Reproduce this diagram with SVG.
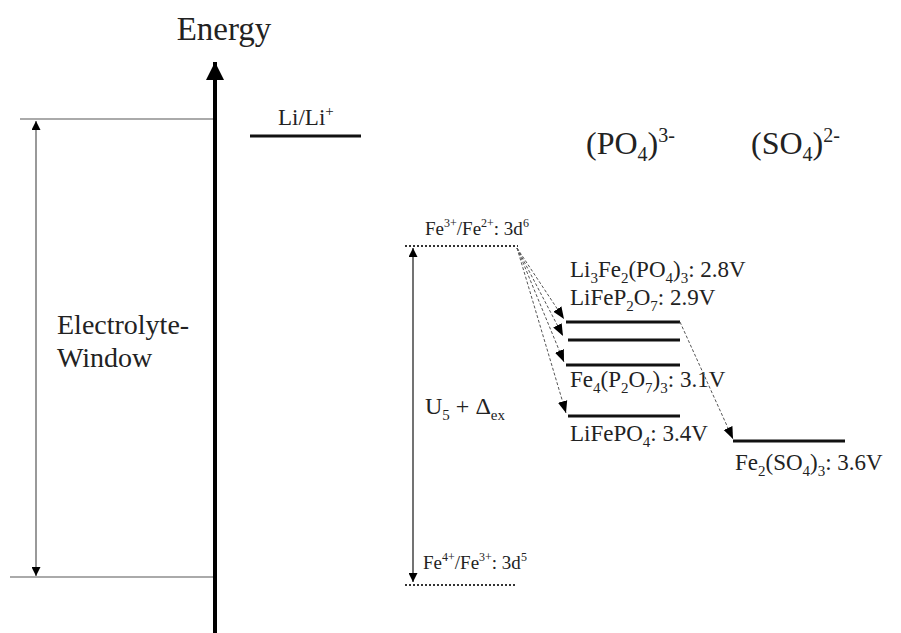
<svg xmlns="http://www.w3.org/2000/svg" width="901" height="633" viewBox="0 0 901 633">
<defs>
<marker id="ahBig" viewBox="0 0 10 10" refX="10" refY="5" markerWidth="18" markerHeight="18" markerUnits="userSpaceOnUse" orient="auto"><path d="M0,0 L10,5 L0,10 z" fill="#000"/></marker>
<marker id="ahS" viewBox="0 0 10 10" refX="10" refY="5" markerWidth="9" markerHeight="9" markerUnits="userSpaceOnUse" orient="auto-start-reverse"><path d="M0,0 L10,5 L0,10 z" fill="#000"/></marker>
<marker id="ahD" viewBox="0 0 10 10" refX="10" refY="5" markerWidth="12" markerHeight="12" markerUnits="userSpaceOnUse" orient="auto"><path d="M0,1 L10,5 L0,9 z" fill="#000"/></marker>
</defs>
<style>
text{font-family:"Liberation Serif","Times New Roman",serif;fill:#222}
.lbl{font-size:23px}
.s{font-size:15px}
.grey{stroke:#aaa;stroke-width:2;fill:none}
.lvl{stroke:#111;stroke-width:3}
.dot{stroke:#333;stroke-width:2;stroke-dasharray:2,2}
.dash{stroke:#555;stroke-width:1;stroke-dasharray:3,2;fill:none}
</style>
<g font-family="Liberation Serif, Times New Roman, serif">
<g id="axis">
<line x1="215" y1="633" x2="215" y2="62" stroke="#000" stroke-width="4" marker-end="url(#ahBig)"/>
<text x="224" y="40" font-size="33" text-anchor="middle">Energy</text>
</g>
<g id="electrolyte-window">
<line class="grey" x1="20" y1="119" x2="213" y2="119"/>
<line class="grey" x1="10" y1="577" x2="213" y2="577"/>
<line x1="36" y1="576" x2="36" y2="121" stroke="#999" stroke-width="2" marker-start="url(#ahS)" marker-end="url(#ahS)"/>
<text x="57" y="334" font-size="28">Electrolyte-</text>
<text x="57" y="367" font-size="28">Window</text>
</g>
<g id="lili">
<text x="278" y="125" font-size="23">Li/Li<tspan font-size="15" dy="-9">+</tspan></text>
<line class="lvl" x1="250" y1="136" x2="361" y2="136" stroke-width="2.5"/>
</g>
<g id="headers">
<text x="586" y="154" font-size="32">(PO<tspan font-size="20" dy="7">4</tspan><tspan dy="-7">)</tspan><tspan font-size="20" dy="-12">3-</tspan></text>
<text x="751" y="154" font-size="32">(SO<tspan font-size="20" dy="7">4</tspan><tspan dy="-7">)</tspan><tspan font-size="20" dy="-12">2-</tspan></text>
</g>
<g id="fe32">
<text x="425" y="235" font-size="19">Fe<tspan font-size="12" dy="-8">3+</tspan><tspan dy="8">/Fe</tspan><tspan font-size="12" dy="-8">2+</tspan><tspan dy="8">: 3d</tspan><tspan font-size="12" dy="-8">6</tspan></text>
<line class="dot" x1="405" y1="246" x2="518" y2="246"/>
</g>
<g id="fe43">
<text x="423" y="569" font-size="19">Fe<tspan font-size="12" dy="-8">4+</tspan><tspan dy="8">/Fe</tspan><tspan font-size="12" dy="-8">3+</tspan><tspan dy="8">: 3d</tspan><tspan font-size="12" dy="-8">5</tspan></text>
<line class="dot" x1="405" y1="585" x2="517" y2="585"/>
</g>
<g id="gap">
<line x1="413" y1="582" x2="413" y2="248" stroke="#444" stroke-width="1.5" marker-start="url(#ahS)" marker-end="url(#ahS)"/>
<text x="425" y="414" font-size="24">U<tspan class="s" dy="6">5</tspan><tspan dy="-6"> + Δ</tspan><tspan class="s" dy="6">ex</tspan></text>
</g>
<g id="li3fe2po4">
<text class="lbl" x="570" y="277">Li<tspan class="s" dy="6">3</tspan><tspan dy="-6">Fe</tspan><tspan class="s" dy="6">2</tspan><tspan dy="-6">(PO</tspan><tspan class="s" dy="6">4</tspan><tspan dy="-6">)</tspan><tspan class="s" dy="6">3</tspan><tspan dy="-6">: 2.8V</tspan></text>
<line class="lvl" x1="566" y1="322" x2="680" y2="322"/>
</g>
<g id="lifep2o7">
<text class="lbl" x="570" y="305">LiFeP<tspan class="s" dy="6">2</tspan><tspan dy="-6">O</tspan><tspan class="s" dy="6">7</tspan><tspan dy="-6">: 2.9V</tspan></text>
<line class="lvl" x1="568" y1="340" x2="680" y2="340"/>
</g>
<g id="fe4p2o7">
<text class="lbl" x="570" y="387">Fe<tspan class="s" dy="6">4</tspan><tspan dy="-6">(P</tspan><tspan class="s" dy="6">2</tspan><tspan dy="-6">O</tspan><tspan class="s" dy="6">7</tspan><tspan dy="-6">)</tspan><tspan class="s" dy="6">3</tspan><tspan dy="-6">: 3.1V</tspan></text>
<line class="lvl" x1="566" y1="365" x2="680" y2="365"/>
</g>
<g id="lifepo4">
<text class="lbl" x="570" y="441">LiFePO<tspan class="s" dy="6">4</tspan><tspan dy="-6">: 3.4V</tspan></text>
<line class="lvl" x1="568" y1="416" x2="680" y2="416"/>
</g>
<g id="fe2so4">
<text class="lbl" x="735" y="470">Fe<tspan class="s" dy="6">2</tspan><tspan dy="-6">(SO</tspan><tspan class="s" dy="6">4</tspan><tspan dy="-6">)</tspan><tspan class="s" dy="6">3</tspan><tspan dy="-6">: 3.6V</tspan></text>
<line class="lvl" x1="733" y1="441" x2="845" y2="441"/>
</g>
<g id="connectors">
<line class="dash" x1="517" y1="248" x2="564" y2="319" marker-end="url(#ahD)"/>
<line class="dash" x1="517" y1="248" x2="563" y2="336" marker-end="url(#ahD)"/>
<line class="dash" x1="517" y1="248" x2="564" y2="362" marker-end="url(#ahD)"/>
<line class="dash" x1="517" y1="248" x2="566" y2="413" marker-end="url(#ahD)"/>
<line class="dash" x1="680" y1="322" x2="733" y2="439" marker-end="url(#ahD)"/>
</g>
</g>
</svg>
